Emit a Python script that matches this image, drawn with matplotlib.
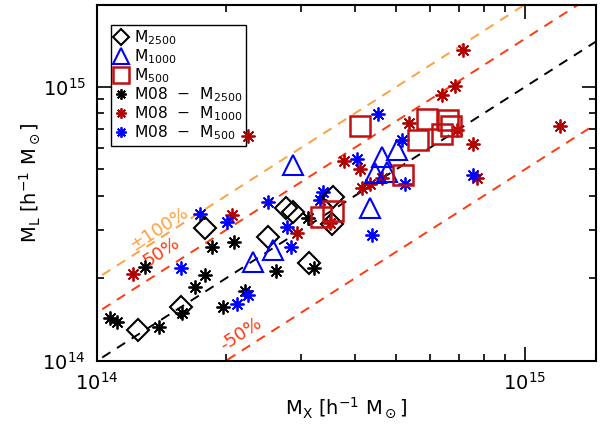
import matplotlib
matplotlib.use("Agg")
import matplotlib.pyplot as plt
import numpy as np

plt.rcParams['font.family'] = ['DejaVu Sans']
plt.rcParams['mathtext.fontset'] = 'dejavusans'

UNIT = 1e14

# M2500 (black diamonds)
m2500_x = [1.247, 1.572, 1.788, 2.509, 2.765, 2.871, 3.129, 3.559, 3.540]
m2500_y = [1.298, 1.575, 3.058, 2.836, 3.617, 3.498, 2.279, 3.967, 3.162]

# M1000 (blue triangles)
m1000_x = [2.314, 2.577, 2.871, 4.344, 4.462, 4.634, 4.760, 5.022]
m1000_y = [2.298, 2.542, 5.190, 3.617, 4.856, 5.553, 4.895, 5.889]

# M500 (red squares)
m500_x = [3.337, 3.559, 4.117, 5.188, 5.623, 5.902, 6.400, 6.608, 6.716]
m500_y = [3.354, 3.527, 7.205, 4.775, 6.407, 7.641, 6.738, 7.577, 7.205]

# M08 - M2500 (black asterisks)
m08_2500_x = [1.072, 1.114, 1.295, 1.396, 1.580, 1.694, 1.788, 1.857, 2.090, 1.970, 2.217, 2.619, 3.112, 3.214]
m08_2500_y = [1.435, 1.388, 2.203, 1.331, 1.497, 1.863, 2.060, 2.607, 2.719, 1.575, 1.801, 2.131, 3.326, 2.185]

# M08 - M1000 (dark red asterisks)
m08_1000_x = [1.214, 2.067, 2.253, 2.933, 3.502, 3.777, 4.117, 4.161, 4.344, 4.634, 5.358, 6.400, 6.862, 7.164, 6.937, 7.558, 7.724, 12.07]
m08_1000_y = [2.077, 3.411, 6.624, 2.932, 3.189, 5.370, 5.021, 4.279, 4.426, 4.655, 7.389, 9.350, 10.08, 13.65, 6.967, 6.194, 4.655, 7.205]

# M08 - M500 (blue asterisks)
m08_500_x = [1.572, 1.741, 2.013, 2.124, 2.253, 2.509, 2.780, 2.840, 3.319, 3.374, 4.051, 4.390, 4.534, 5.160, 5.244, 7.558]
m08_500_y = [2.185, 3.440, 3.216, 1.615, 1.741, 3.804, 3.083, 2.607, 3.869, 4.139, 5.461, 2.884, 7.969, 6.407, 4.426, 4.775]

# reference lines: ratio M_L / M_X
ratios = [1.0, 1.5, 2.0, 0.5]
ratio_colors = ['black', '#ff3a10', '#ffa040', '#ff3a10']

labels = ['\u00b1100%', '50%', '-50%']
label_x = [1.396, 1.419, 2.170]
label_y = [3.032, 2.499, 1.254]
label_colors = ['#ffa040', '#ff3a10', '#ff3a10']

xlim = (1e14, 1.465e15)
ylim = (1e14, 1.99e15)

fig = plt.figure(figsize=(6.1, 4.25), dpi=100)
ax = fig.add_axes([0.159, 0.151, 0.818, 0.837])
ax.set_xscale('log')
ax.set_yscale('log')
ax.set_xlim(*xlim)
ax.set_ylim(*ylim)

xx = np.array([1e13, 1e16])
for r, c in zip(ratios, ratio_colors):
    ax.plot(xx, r * xx, color=c, lw=1.4, dashes=(5, 4), zorder=1)

def arr(v):
    return np.array(v) * UNIT

ast = (8, 2, 0)
ax.plot(arr(m08_2500_x), arr(m08_2500_y), ls='none', marker=ast, ms=10, mew=1.3, color='black', label=r'M08  $-$  M$_{2500}$', zorder=3)
ax.plot(arr(m08_1000_x), arr(m08_1000_y), ls='none', marker=ast, ms=10, mew=1.3, color='#b00000', label=r'M08  $-$  M$_{1000}$', zorder=3)
ax.plot(arr(m08_500_x), arr(m08_500_y), ls='none', marker=ast, ms=10, mew=1.3, color='#0000ff', label=r'M08  $-$  M$_{500}$', zorder=3)

ax.plot(arr(m2500_x), arr(m2500_y), ls='none', marker='D', ms=11, mfc='none', mec='black', mew=1.5, label=r'M$_{2500}$', zorder=4)
ax.plot(arr(m1000_x), arr(m1000_y), ls='none', marker='^', ms=15, mfc='none', mec='#0000ff', mew=1.5, label=r'M$_{1000}$', zorder=4)
ax.plot(arr(m500_x), arr(m500_y), ls='none', marker='s', ms=15, mfc='none', mec='#c01010', mew=1.8, label=r'M$_{500}$', zorder=4)

for t, x, y, c in zip(labels, label_x, label_y, label_colors):
    ax.text(x * UNIT, y * UNIT, t, color=c, fontsize=13, rotation=33,
            ha='center', va='center', rotation_mode='anchor', zorder=2)

handles, lbls = ax.get_legend_handles_labels()
order = [3, 4, 5, 0, 1, 2]
leg = ax.legend([handles[i] for i in order], [lbls[i] for i in order],
                loc='upper left', bbox_to_anchor=(0.012, 0.967), fontsize=11.2,
                frameon=True, fancybox=False, edgecolor='black', framealpha=1,
                handlelength=0.8, handletextpad=0.45, labelspacing=0.02,
                borderpad=0.25, markerscale=0.75)
leg.get_frame().set_linewidth(1.0)
leg.set_zorder(2.5)

ax.tick_params(which='both', direction='in', top=True, right=True, width=1.2)
ax.tick_params(which='major', length=10, labelsize=14, pad=8)
ax.tick_params(which='minor', length=5)
ax.yaxis.set_minor_formatter(matplotlib.ticker.NullFormatter())
ax.xaxis.set_minor_formatter(matplotlib.ticker.NullFormatter())
for s in ax.spines.values():
    s.set_linewidth(1.5)

ax.set_xlabel(r'M$_\mathrm{X}$ [h$^{-1}$ M$_\odot$]', fontsize=14, labelpad=1)
ax.set_ylabel(r'M$_\mathrm{L}$ [h$^{-1}$ M$_\odot$]', fontsize=14, labelpad=0)

fig.savefig('out.png', dpi=100)
